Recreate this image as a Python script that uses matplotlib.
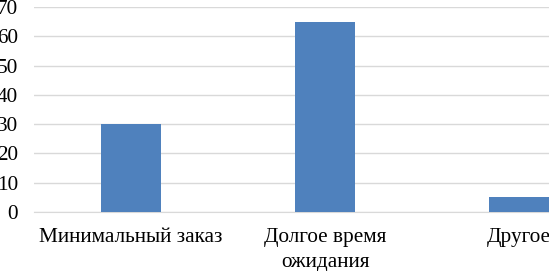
import matplotlib.pyplot as plt
import numpy as np

categories = ["Минимальный заказ", "Долгое время\nожидания", "Другое"]
values = [30, 65, 5]
yticks = [0, 10, 20, 30, 40, 50, 60, 70]

plt.rcParams["font.family"] = ["Liberation Serif", "DejaVu Serif"]

fig = plt.figure(figsize=(5.49, 2.71), dpi=100)
# axes run past the right edge, as in the cropped original
ax = fig.add_axes([34 / 549, 59 / 271, 582 / 549, 205 / 271])

x = np.arange(len(categories))
ax.bar(x, values, width=0.31, color="#4f81bd", zorder=3)

ax.set_xlim(-0.5, 2.5)
ax.set_ylim(0, 70)
ax.set_yticks(yticks)
ax.set_xticks(x, categories)
ax.yaxis.grid(True, color="#d9d9d9", linewidth=1, zorder=0)
for side in ["top", "right", "left"]:
    ax.spines[side].set_visible(False)
ax.spines["bottom"].set_color("#d9d9d9")
ax.tick_params(axis="both", length=0, labelsize=15.3, colors="black")
ax.tick_params(axis="y", pad=11.5)
ax.tick_params(axis="x", pad=11.5)
for lbl in ax.get_xticklabels():
    lbl.set_linespacing(1.4)

fig.savefig("out.png", dpi=100)
